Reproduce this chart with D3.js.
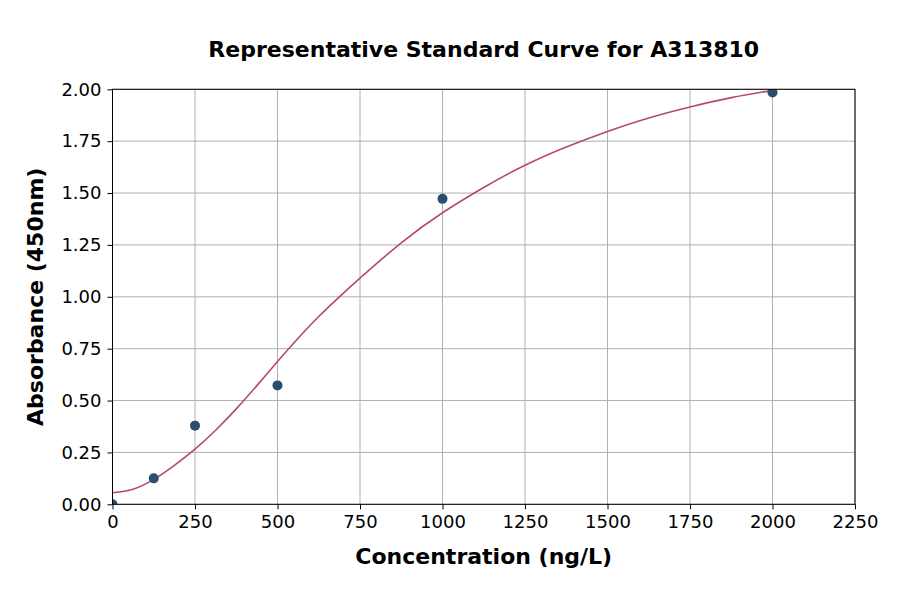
<!DOCTYPE html>
<html>
<head>
<meta charset="utf-8">
<script src="https://cdn.jsdelivr.net/npm/d3@7"></script>
<style>
  body { margin: 0; background: #fff; }
  text { font-family: "DejaVu Sans", sans-serif; fill: #000; }
</style>
</head>
<body>
<div id="chart"></div>
<script>
// measured standards
var concentrations = [0, 125, 250, 500, 1000, 2000];
var absorbances = [0.0, 0.125, 0.379, 0.573, 1.472, 1.985];

// fitted curve
var curveX = [0, 62.5, 125, 187.5, 250, 312.5, 375, 437.5, 500, 562.5, 625, 687.5, 750, 875, 1000, 1125, 1250, 1375, 1500, 1625, 1750, 1875, 2000];
var curveY = [0.056, 0.073, 0.12, 0.188, 0.266, 0.357, 0.46, 0.572, 0.688, 0.80, 0.905, 1.0, 1.09, 1.26, 1.405, 1.527, 1.634, 1.722, 1.797, 1.862, 1.915, 1.96, 1.995];

var xTicks = [0, 250, 500, 750, 1000, 1250, 1500, 1750, 2000, 2250];
var yTicks = [0, 0.25, 0.5, 0.75, 1.0, 1.25, 1.5, 1.75, 2.0];

//svg size
var svgW = 900;
var svgH = 594;

//plot borders
var margin = { top: 89.3, right: 45, bottom: 89.7, left: 112.5 };
var width = svgW - margin.left - margin.right;
var height = svgH - margin.top - margin.bottom;

var svg = d3.select("#chart").append("svg")
    .attr("width", svgW)
    .attr("height", svgH);

//clip marks to the plot area
svg.append("defs").append("clipPath")
    .attr("id", "plotClip")
    .append("rect")
    .attr("width", width)
    .attr("height", height);

var chartGroup = svg.append("g")
    .attr("transform", `translate(${margin.left}, ${margin.top})`);

//scales
var xScale = d3.scaleLinear().domain([0, 2250]).range([0, width]);
var yScale = d3.scaleLinear().domain([0, 2]).range([height, 0]);

//grid lines
chartGroup.append("g").selectAll("line")
    .data(xTicks)
    .enter()
    .append("line")
    .attr("x1", d => xScale(d)).attr("x2", d => xScale(d))
    .attr("y1", 0).attr("y2", height)
    .attr("stroke", "#b0b0b0")
    .attr("stroke-width", 1);

chartGroup.append("g").selectAll("line")
    .data(yTicks)
    .enter()
    .append("line")
    .attr("x1", 0).attr("x2", width)
    .attr("y1", d => yScale(d)).attr("y2", d => yScale(d))
    .attr("stroke", "#b0b0b0")
    .attr("stroke-width", 1);

//axes
var bottomAxis = d3.axisBottom(xScale).tickValues(xTicks).tickSize(5).tickPadding(6).tickFormat(d3.format("d"));
var leftAxis = d3.axisLeft(yScale).tickValues(yTicks).tickSize(5).tickPadding(6).tickFormat(d3.format(".2f"));

var xAxis = chartGroup.append("g")
    .attr("transform", `translate(0, ${height})`)
    .call(bottomAxis);

var yAxis = chartGroup.append("g")
    .call(leftAxis);

[xAxis, yAxis].forEach(function(ax) {
    ax.select(".domain").remove();
    ax.selectAll("line").attr("stroke", "#000");
    ax.selectAll("text")
        .style("font-family", "DejaVu Sans, sans-serif")
        .style("font-size", "18px")
        .attr("fill", "#000");
});

var plot = chartGroup.append("g").attr("clip-path", "url(#plotClip)");

//fitted curve
var line = d3.line()
    .x((d, i) => xScale(curveX[i]))
    .y(d => yScale(d))
    .curve(d3.curveNatural);

plot.append("path")
    .datum(curveY)
    .attr("d", line)
    .attr("fill", "none")
    .attr("stroke", "#b5496d")
    .attr("stroke-width", 1.6);

//points
plot.selectAll("circle")
    .data(concentrations)
    .enter()
    .append("circle")
    .attr("cx", d => xScale(d))
    .attr("cy", (d, i) => yScale(absorbances[i]))
    .attr("r", 5)
    .attr("fill", "#2b4d6f");

//frame
chartGroup.append("rect")
    .attr("x", 0).attr("y", 0)
    .attr("width", width).attr("height", height)
    .attr("fill", "none")
    .attr("stroke", "#000")
    .attr("stroke-width", 1);

//title and axis labels
svg.append("text")
    .attr("x", margin.left + width / 2)
    .attr("y", 57)
    .attr("text-anchor", "middle")
    .style("font-size", "22px")
    .style("font-weight", "bold")
    .text("Representative Standard Curve for A313810");

svg.append("text")
    .attr("x", margin.left + width / 2)
    .attr("y", 564)
    .attr("text-anchor", "middle")
    .style("font-size", "22px")
    .style("font-weight", "bold")
    .text("Concentration (ng/L)");

svg.append("text")
    .attr("transform", `translate(43, ${margin.top + height / 2}) rotate(-90)`)
    .attr("text-anchor", "middle")
    .style("font-size", "22px")
    .style("font-weight", "bold")
    .text("Absorbance (450nm)");
</script>
</body>
</html>
